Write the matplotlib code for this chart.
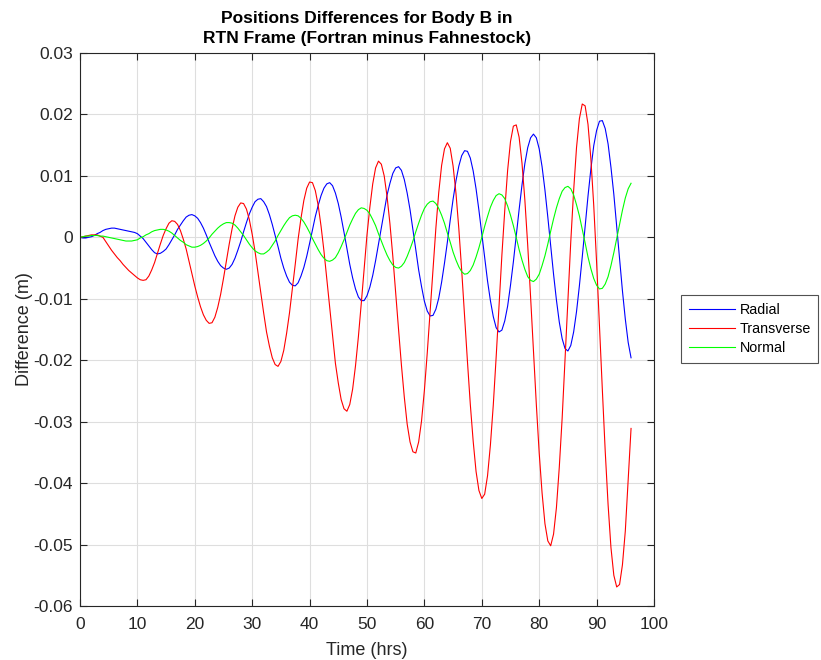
import matplotlib
matplotlib.use('Agg')
import numpy as np
import matplotlib.pyplot as plt
from matplotlib.ticker import FuncFormatter

plt.rcParams['font.family'] = ['Liberation Sans', 'DejaVu Sans']
plt.rcParams['axes.unicode_minus'] = False

# time in hours, every half hour from 0 to 96
hours = np.arange(0, 96.5, 0.5)

radial = [
    0.0000, -0.0001, -0.0001, 0.0000, 0.0001, 0.0003, 0.0006, 0.0008, 0.0011, 0.0013,
    0.0014, 0.0015, 0.0015, 0.0014, 0.0013, 0.0012, 0.0011, 0.0010, 0.0009, 0.0008,
    0.0006, 0.0002, -0.0002, -0.0008, -0.0014, -0.0020, -0.0025, -0.0027, -0.0026, -0.0023,
    -0.0019, -0.0012, -0.0004, 0.0004, 0.0013, 0.0020, 0.0027, 0.0033, 0.0036, 0.0037,
    0.0035, 0.0031, 0.0024, 0.0015, 0.0004, -0.0008, -0.0019, -0.0030, -0.0039, -0.0046,
    -0.0050, -0.0052, -0.0050, -0.0044, -0.0034, -0.0021, -0.0007, 0.0009, 0.0024, 0.0038,
    0.0049, 0.0058, 0.0062, 0.0063, 0.0058, 0.0050, 0.0037, 0.0021, 0.0003, -0.0015,
    -0.0034, -0.0050, -0.0063, -0.0073, -0.0078, -0.0079, -0.0074, -0.0063, -0.0049, -0.0031,
    -0.0010, 0.0012, 0.0034, 0.0052, 0.0068, 0.0080, 0.0087, 0.0089, 0.0084, 0.0072,
    0.0055, 0.0033, 0.0008, -0.0018, -0.0044, -0.0066, -0.0084, -0.0097, -0.0103, -0.0103,
    -0.0095, -0.0081, -0.0062, -0.0038, -0.0011, 0.0016, 0.0044, 0.0069, 0.0088, 0.0104,
    0.0113, 0.0115, 0.0109, 0.0094, 0.0072, 0.0045, 0.0013, -0.0020, -0.0053, -0.0080,
    -0.0104, -0.0120, -0.0128, -0.0127, -0.0117, -0.0099, -0.0073, -0.0042, -0.0008, 0.0028,
    0.0062, 0.0092, 0.0116, 0.0133, 0.0141, 0.0140, 0.0129, 0.0108, 0.0079, 0.0044,
    0.0006, -0.0033, -0.0071, -0.0103, -0.0129, -0.0147, -0.0154, -0.0151, -0.0136, -0.0112,
    -0.0078, -0.0040, 0.0003, 0.0045, 0.0085, 0.0120, 0.0146, 0.0162, 0.0168, 0.0162,
    0.0144, 0.0115, 0.0077, 0.0033, -0.0013, -0.0060, -0.0102, -0.0138, -0.0165, -0.0181,
    -0.0185, -0.0176, -0.0154, -0.0121, -0.0079, -0.0032, 0.0018, 0.0067, 0.0111, 0.0149,
    0.0174, 0.0189, 0.0190, 0.0177, 0.0152, 0.0114, 0.0070, 0.0017, -0.0036, -0.0087,
    -0.0133, -0.0171, -0.0196]

transverse = [
    0.0000, 0.0001, 0.0002, 0.0003, 0.0004, 0.0004, 0.0004, 0.0002, 0.0000, -0.0007,
    -0.0014, -0.0021, -0.0027, -0.0033, -0.0038, -0.0044, -0.0049, -0.0054, -0.0058, -0.0062,
    -0.0066, -0.0069, -0.0070, -0.0069, -0.0063, -0.0053, -0.0041, -0.0026, -0.0011, 0.0003,
    0.0014, 0.0023, 0.0027, 0.0026, 0.0021, 0.0011, -0.0003, -0.0019, -0.0039, -0.0059,
    -0.0079, -0.0097, -0.0113, -0.0126, -0.0135, -0.0140, -0.0139, -0.0130, -0.0114, -0.0093,
    -0.0067, -0.0039, -0.0011, 0.0014, 0.0035, 0.0049, 0.0056, 0.0055, 0.0046, 0.0029,
    0.0005, -0.0023, -0.0057, -0.0090, -0.0123, -0.0154, -0.0177, -0.0196, -0.0207, -0.0210,
    -0.0202, -0.0184, -0.0156, -0.0123, -0.0084, -0.0044, -0.0003, 0.0031, 0.0060, 0.0080,
    0.0090, 0.0089, 0.0076, 0.0052, 0.0018, -0.0022, -0.0068, -0.0115, -0.0161, -0.0205,
    -0.0237, -0.0264, -0.0279, -0.0283, -0.0272, -0.0247, -0.0209, -0.0162, -0.0108, -0.0051,
    0.0004, 0.0049, 0.0087, 0.0113, 0.0124, 0.0119, 0.0100, 0.0066, 0.0022, -0.0031,
    -0.0091, -0.0150, -0.0208, -0.0260, -0.0304, -0.0333, -0.0349, -0.0351, -0.0333, -0.0299,
    -0.0249, -0.0188, -0.0120, -0.0050, 0.0015, 0.0073, 0.0117, 0.0144, 0.0154, 0.0145,
    0.0116, 0.0072, 0.0014, -0.0054, -0.0128, -0.0202, -0.0272, -0.0332, -0.0381, -0.0412,
    -0.0425, -0.0418, -0.0388, -0.0338, -0.0273, -0.0195, -0.0112, -0.0029, 0.0044, 0.0109,
    0.0156, 0.0181, 0.0183, 0.0163, 0.0121, 0.0061, -0.0013, -0.0097, -0.0185, -0.0272,
    -0.0351, -0.0416, -0.0466, -0.0494, -0.0502, -0.0483, -0.0440, -0.0374, -0.0294, -0.0200,
    -0.0103, -0.0007, 0.0076, 0.0146, 0.0193, 0.0217, 0.0214, 0.0184, 0.0128, 0.0052,
    -0.0041, -0.0145, -0.0248, -0.0348, -0.0435, -0.0505, -0.0550, -0.0569, -0.0565, -0.0533,
    -0.0478, -0.0396, -0.0311]

normal = [
    0.0000, 0.0001, 0.0002, 0.0002, 0.0003, 0.0003, 0.0003, 0.0002, 0.0002, 0.0001,
    0.0000, -0.0001, -0.0002, -0.0003, -0.0004, -0.0005, -0.0006, -0.0006, -0.0006, -0.0005,
    -0.0004, -0.0001, 0.0001, 0.0004, 0.0006, 0.0009, 0.0011, 0.0012, 0.0013, 0.0013,
    0.0012, 0.0010, 0.0007, 0.0003, -0.0001, -0.0005, -0.0008, -0.0012, -0.0014, -0.0016,
    -0.0016, -0.0015, -0.0013, -0.0010, -0.0006, -0.0001, 0.0005, 0.0010, 0.0015, 0.0019,
    0.0022, 0.0024, 0.0024, 0.0023, 0.0020, 0.0015, 0.0009, 0.0003, -0.0004, -0.0011,
    -0.0017, -0.0022, -0.0025, -0.0027, -0.0027, -0.0024, -0.0020, -0.0013, -0.0006, 0.0003,
    0.0011, 0.0019, 0.0026, 0.0032, 0.0035, 0.0036, 0.0035, 0.0031, 0.0025, 0.0017,
    0.0008, -0.0002, -0.0011, -0.0020, -0.0028, -0.0034, -0.0038, -0.0039, -0.0037, -0.0033,
    -0.0025, -0.0015, -0.0004, 0.0008, 0.0020, 0.0030, 0.0039, 0.0045, 0.0048, 0.0047,
    0.0044, 0.0038, 0.0029, 0.0019, 0.0006, -0.0006, -0.0018, -0.0029, -0.0038, -0.0045,
    -0.0049, -0.0050, -0.0047, -0.0041, -0.0031, -0.0019, -0.0006, 0.0009, 0.0023, 0.0036,
    0.0047, 0.0054, 0.0058, 0.0059, 0.0055, 0.0047, 0.0036, 0.0023, 0.0007, -0.0008,
    -0.0024, -0.0037, -0.0048, -0.0056, -0.0060, -0.0059, -0.0054, -0.0045, -0.0032, -0.0017,
    0.0000, 0.0018, 0.0034, 0.0049, 0.0060, 0.0068, 0.0071, 0.0069, 0.0063, 0.0051,
    0.0036, 0.0019, 0.0000, -0.0020, -0.0037, -0.0052, -0.0064, -0.0070, -0.0072, -0.0068,
    -0.0060, -0.0046, -0.0030, -0.0011, 0.0010, 0.0030, 0.0048, 0.0063, 0.0075, 0.0081,
    0.0083, 0.0079, 0.0069, 0.0053, 0.0035, 0.0013, -0.0009, -0.0032, -0.0051, -0.0067,
    -0.0078, -0.0084, -0.0083, -0.0076, -0.0064, -0.0046, -0.0025, -0.0002, 0.0021, 0.0044,
    0.0064, 0.0079, 0.0088]

xticks = [0, 10, 20, 30, 40, 50, 60, 70, 80, 90, 100]
yticks = [-0.06, -0.05, -0.04, -0.03, -0.02, -0.01, 0, 0.01, 0.02, 0.03]

fig = plt.figure(figsize=(8.21, 6.6), dpi=100)
ax = fig.add_axes([0.0974, 0.0818, 0.6992, 0.8379])

ax.plot(hours, radial, color='#0000ff', lw=0.8, label='Radial')
ax.plot(hours, transverse, color='#ff0000', lw=0.8, label='Transverse')
ax.plot(hours, normal, color='#00ff00', lw=0.8, label='Normal')

ax.set_xlim(0, 100)
ax.set_ylim(-0.06, 0.03)
ax.set_xticks(xticks)
ax.set_yticks(yticks)
ax.yaxis.set_major_formatter(FuncFormatter(lambda v, p: '0' if abs(v) < 1e-12 else ('%g' % v)))
ax.grid(True, color='#dedede', lw=0.8)
ax.set_axisbelow(True)
ax.tick_params(direction='in', top=True, right=True, length=5, width=0.8,
               colors='#262626', labelsize=12.5)
ax.tick_params(axis='x', pad=8)
ax.tick_params(axis='y', pad=5)
for s in ax.spines.values():
    s.set_color('#262626')
    s.set_linewidth(0.8)

ax.set_xlabel('Time (hrs)', fontsize=13, color='#262626', labelpad=7)
ax.set_ylabel('Difference (m)', fontsize=13, color='#262626', labelpad=0)
ax.set_title('Positions Differences for Body B in\nRTN Frame (Fortran minus Fahnestock)',
             fontsize=12.5, fontweight='bold', pad=7, linespacing=1.45)

leg = fig.legend(loc='lower left', bbox_to_anchor=(0.8295, 0.45, 0.1669, 0.1),
                 mode='expand', borderaxespad=0, fontsize=10.3,
                 frameon=True, fancybox=False, handlelength=3.2, borderpad=0.55,
                 labelspacing=0.37, handletextpad=0.38)
leg.get_frame().set_edgecolor('#262626')
leg.get_frame().set_linewidth(0.8)

fig.savefig('out.png', dpi=100)
